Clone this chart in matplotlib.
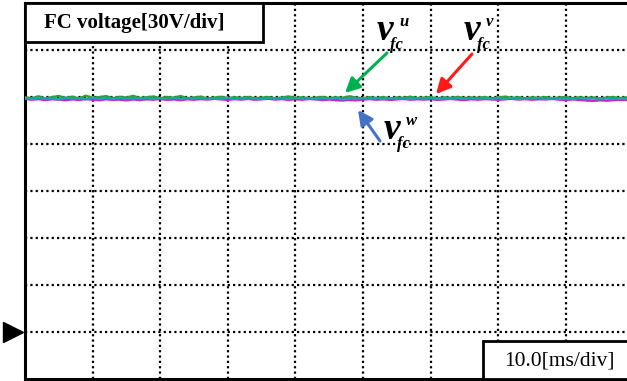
import matplotlib
matplotlib.use("Agg")
import matplotlib.pyplot as plt
import numpy as np

# ---- data ----
time_ms = list(range(0, 90))  # 1 ms steps, visible part of the 100 ms screen
v_fc_u_green = [149.8,149.2,150.4,149.1,149.9,150.6,149.3,150.2,149.0,150.8,
                149.4,149.9,150.5,149.2,150.1,149.6,150.7,149.3,149.8,150.3,
                149.1,150.0,149.5,150.6,149.2,149.7,150.2,149.0,149.6,150.1,
                149.3,149.8,149.4,150.0,149.2,149.6,149.9,149.1,149.7,150.3,
                149.4,149.8,149.2,149.6,150.0,149.3,149.7,149.5,150.4,149.6,
                149.2,149.8,149.4,149.9,149.1,149.7,149.5,150.1,149.3,149.6,
                149.9,149.2,149.8,149.4,150.0,149.3,149.7,149.5,149.9,149.2,
                149.6,150.2,149.4,149.8,149.1,149.7,149.5,149.9,149.3,149.6,
                150.0,149.2,149.8,149.4,149.7,149.1,149.6,149.9,149.3,149.7]
v_fc_v_magenta = [148.9,148.3,148.7,148.1,148.6,148.4,148.0,148.5,148.2,148.7,
                  148.3,148.0,148.6,148.2,148.4,147.9,148.5,148.1,148.6,148.3,
                  148.8,148.2,148.5,148.0,148.6,148.3,148.7,148.4,148.9,148.5,
                  148.2,148.7,148.4,148.8,148.3,148.6,148.9,148.4,148.7,148.2,
                  148.6,148.3,148.8,148.5,148.1,148.4,148.0,147.8,148.2,147.9,
                  148.4,148.7,148.3,148.6,148.2,148.5,148.8,148.3,148.6,148.4,
                  148.7,148.2,148.5,148.8,148.4,148.1,148.6,148.3,148.7,148.5,
                  148.2,148.6,148.9,148.4,148.7,148.3,148.6,148.5,148.8,148.4,
                  148.1,148.5,148.2,147.8,147.6,147.9,147.7,148.0,148.3,148.1]
v_fc_w_teal = [149.3,148.6,149.5,148.8,149.1,148.4,149.6,148.9,149.2,148.5,
               149.4,148.8,149.3,148.6,149.5,148.7,149.2,148.9,149.4,148.6,
               149.3,148.8,149.5,148.7,149.1,148.9,149.4,148.6,149.2,148.8,
               149.5,148.7,149.3,148.9,149.1,148.6,149.4,148.8,149.2,148.7,
               149.5,148.9,149.1,148.6,149.3,148.8,149.4,148.5,149.0,148.7,
               149.3,148.9,149.2,148.6,149.4,148.8,149.1,148.7,149.3,148.9,
               149.5,148.6,149.2,148.8,149.4,148.7,149.1,148.9,149.3,148.6,
               149.2,148.8,149.5,148.7,149.1,148.9,149.4,148.6,149.2,148.8,
               149.0,148.6,149.3,148.7,149.1,148.5,149.2,148.8,149.0,148.7]

volts_per_div = 30
ms_per_div = 10
title_text = "FC voltage[30V/div]"
time_text = "10.0[ms/div]"

W, H = 627, 381
fig = plt.figure(figsize=(W/100, H/100), dpi=100)
fig.patch.set_facecolor("white")

def fp(x, y):
    return (x / W, 1 - y / H)

ax = fig.add_axes([25/W, 2/H, 676/W, 376/H])
ax.set_xlim(0, 10 * ms_per_div)
ax.set_ylim(-1 * volts_per_div, 7 * volts_per_div)
for s in ["left", "top", "bottom", "right"]:
    ax.spines[s].set_linewidth(2.2)
    ax.spines[s].set_color("black")
ax.set_xticks([])
ax.set_yticks([])

# grid
for k in range(1, 10):
    ax.axvline(k * ms_per_div, color="black", lw=1.6, ls=(0, (1, 1.4)), zorder=1)
for k in range(0, 7):
    ax.axhline(k * volts_per_div, color="black", lw=1.6, ls=(0, (1, 1.4)), zorder=1)

# traces
ax.plot(time_ms, v_fc_v_magenta, color="#cc22cc", lw=1.8, zorder=3)
ax.plot(time_ms, v_fc_u_green, color="#2e9e3e", lw=1.8, zorder=4)
ax.plot(time_ms, v_fc_w_teal, color="#1aa6a6", lw=1.6, zorder=5)

# trigger / ground marker
ax.plot([-1.75], [0], marker=">", ms=14, color="black", clip_on=False, zorder=6)

# title box
fig.patches.append(plt.Rectangle(fp(25, 42), 238/W, 39/H, transform=fig.transFigure,
                                 fill=True, facecolor="white", edgecolor="black", lw=2, zorder=10))
fig.text(*fp(134, 23), title_text, family="Liberation Serif", weight="bold",
         fontsize=15, ha="center", va="center", zorder=11)

# time box
fig.patches.append(plt.Rectangle(fp(483, 379), 160/W, 38/H, transform=fig.transFigure,
                                 fill=True, facecolor="white", edgecolor="black", lw=2, zorder=10))
fig.text(*fp(559, 361), time_text, family="Liberation Serif",
         fontsize=15.5, ha="center", va="center", zorder=11)

# arrows
def arrow(tail, tip, color):
    ax.annotate("", xy=fp(*tip), xycoords="figure fraction",
                xytext=fp(*tail), textcoords="figure fraction",
                arrowprops=dict(arrowstyle="-|>", color=color, lw=2.2,
                                mutation_scale=22, shrinkA=0, shrinkB=0),
                zorder=12)

arrow((387, 53), (345, 93), "#00b050")
arrow((472, 54), (436, 94), "#ff1a1a")
arrow((380, 141), (358, 110), "#4472c4")

def vlabel(x, y, sup):
    fig.text(*fp(x, y), "v", family="Liberation Serif", style="italic", weight="bold",
             fontsize=27, ha="left", va="baseline", zorder=12)
    fig.text(*fp(x + 22, y - 14), sup, family="Liberation Serif", style="italic", weight="bold",
             fontsize=12, ha="left", va="baseline", zorder=12)
    fig.text(*fp(x + 13, y + 9), "fc", family="Liberation Serif", style="italic", weight="bold",
             fontsize=12, ha="left", va="baseline", zorder=12)

vlabel(377, 40, "u")
vlabel(464, 40, "v")
vlabel(384, 139, "w")

fig.savefig("out.png", dpi=100)
